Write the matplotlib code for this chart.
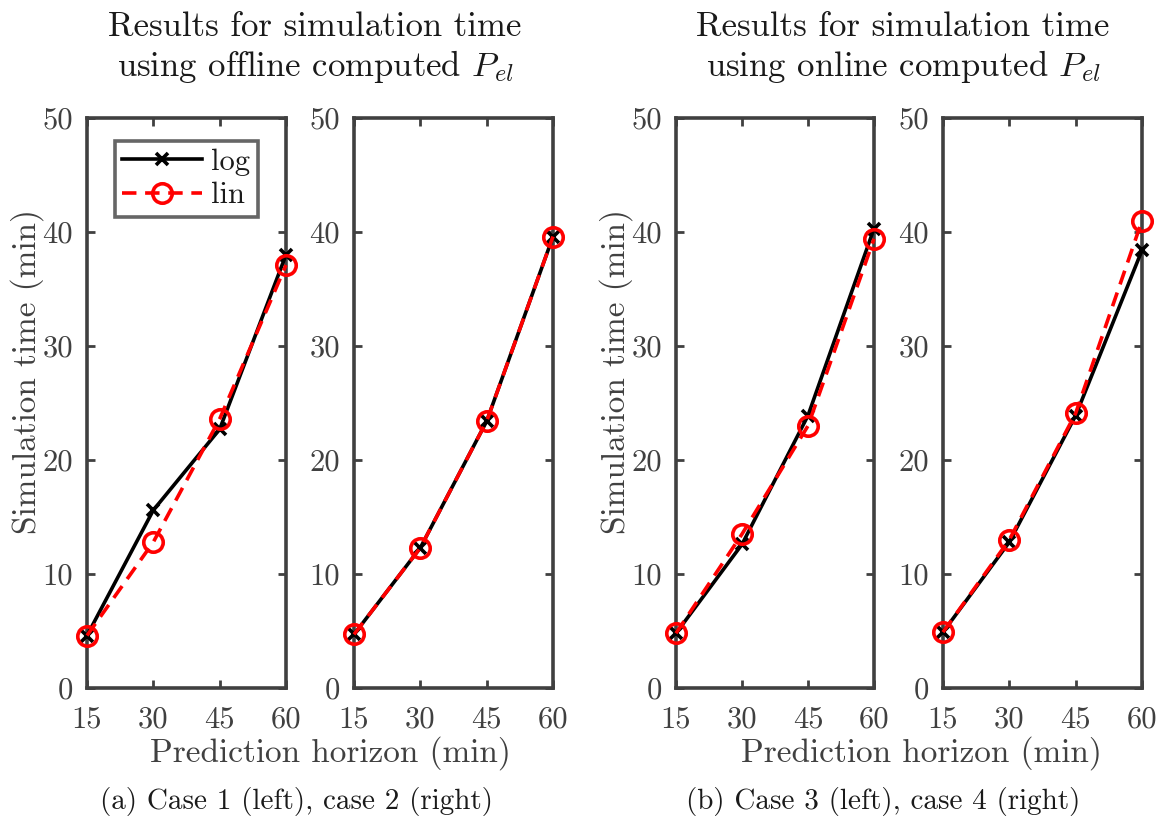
import matplotlib
matplotlib.use("Agg")
import matplotlib.pyplot as plt

plt.rcParams['font.family'] = 'cmr10'
plt.rcParams['mathtext.fontset'] = 'cm'
plt.rcParams['axes.formatter.use_mathtext'] = True

horizon = [15, 30, 45, 60]

# simulation time (min)
case1_log = [4.6, 15.6, 22.7, 38.0]
case1_lin = [4.6, 12.8, 23.6, 37.1]
case2_log = [4.7, 12.3, 23.4, 39.6]
case2_lin = [4.7, 12.3, 23.4, 39.6]
case3_log = [4.8, 12.6, 23.9, 40.3]
case3_lin = [4.8, 13.5, 23.0, 39.4]
case4_log = [4.9, 12.8, 23.9, 38.4]
case4_lin = [4.9, 13.0, 24.1, 41.0]

titles = ["Results for simulation time\nusing offline computed $P_{el}$",
          "Results for simulation time\nusing online computed $P_{el}$"]
captions = ["(a) Case 1 (left), case 2 (right)",
            "(b) Case 3 (left), case 4 (right)"]

gray = '#404040'
W, H = 1167, 824
fig = plt.figure(figsize=(W / 100, H / 100), dpi=100)

# axes boxes in pixels: left, right
boxes = [(87, 286), (354, 553), (676, 874), (943, 1142)]
top, bottom = 118, 688
data = [(case1_log, case1_lin), (case2_log, case2_lin),
        (case3_log, case3_lin), (case4_log, case4_lin)]

axes = []
for i, ((l, r), (ylog, ylin)) in enumerate(zip(boxes, data)):
    ax = fig.add_axes([l / W, 1 - bottom / H, (r - l) / W, (bottom - top) / H])
    ax.plot(horizon, ylog, color='black', lw=2.6, marker='x', ms=9, mew=2.6, label='log',
            clip_on=False, zorder=3)
    ax.plot(horizon, ylin, color='red', lw=2.6, ls=(0, (4, 2.4)), marker='o', ms=14,
            mew=2.6, mfc='none', label='lin', clip_on=False, zorder=4)
    ax.set_xlim(15, 60)
    ax.set_ylim(0, 50)
    ax.set_xticks(horizon)
    ax.set_xticklabels([str(h) for h in horizon])
    ax.set_yticks([0, 10, 20, 30, 40, 50])
    ax.set_yticklabels(['0', '10', '20', '30', '40', '50'])
    ax.tick_params(direction='in', top=True, right=True, length=6, width=2,
                   colors=gray, labelsize=22)
    ax.tick_params(axis='x', pad=13)
    ax.tick_params(axis='y', pad=10)
    for s in ax.spines.values():
        s.set_linewidth(2.6)
        s.set_color(gray)
    if i % 2 == 0:
        ax.set_ylabel('Simulation time (min)', fontsize=24, color=gray)
        ax.yaxis.set_label_coords(-0.215, 0.555)
    axes.append(ax)

leg = axes[0].legend(loc='upper left', fontsize=22, frameon=True, fancybox=False,
                     edgecolor=gray, handlelength=2.6, borderpad=0.25,
                     handletextpad=0.3, labelspacing=0.2, borderaxespad=0,
                     bbox_to_anchor=(0.14, 0.96))
leg.get_frame().set_linewidth(2.6)
for t in leg.get_texts():
    t.set_color('#1a1a1a')

for k, (tx, lx, cx) in enumerate([(315, 330, 296), (903, 921, 883)]):
    fig.text(tx / W, 1 - 48 / H, titles[k], ha='center', va='center',
             fontsize=25, color='#1a1a1a', linespacing=1.2)
    fig.text(lx / W, 1 - 753 / H, 'Prediction horizon (min)', ha='center', va='center',
             fontsize=24, color=gray)
    fig.text(cx / W, 1 - 802 / H, captions[k], ha='center', va='center',
             fontsize=21, color='#1a1a1a')

fig.savefig('out.png', dpi=100, facecolor='white')
